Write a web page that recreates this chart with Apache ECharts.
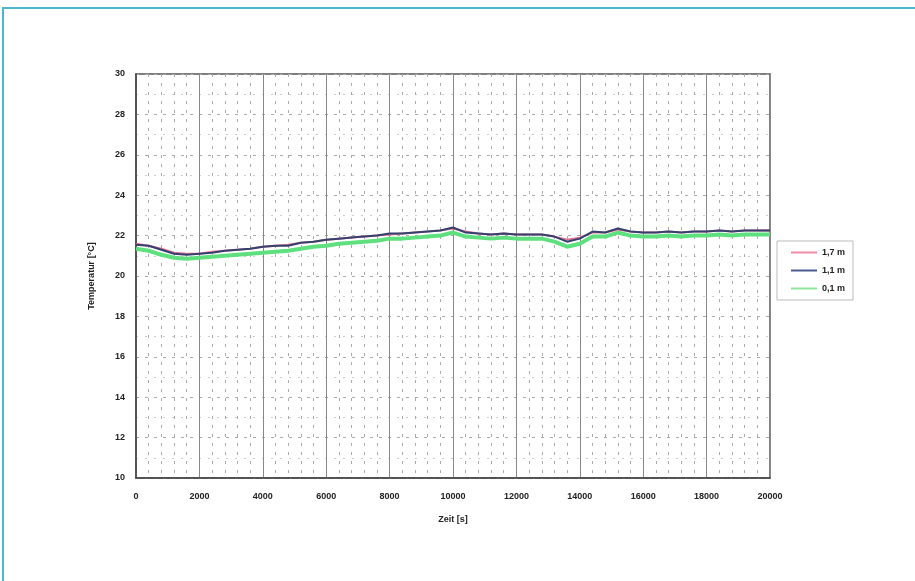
<!DOCTYPE html>
<html>
<head>
<meta charset="utf-8">
<script src="https://cdn.jsdelivr.net/npm/echarts@6/dist/echarts.min.js"></script>
<style>
html,body{margin:0;padding:0;background:#fff;}
#frame{position:absolute;left:2px;top:7px;width:913px;height:574px;border-top:2px solid #4bb8cc;border-left:2px solid #4bb8cc;box-sizing:border-box;}
#chart{position:absolute;left:0;top:0;width:915px;height:581px;}
</style>
</head>
<body>
<div id="chart"></div>
<div id="frame"></div>
<script>
const timeSec = [0,400,800,1200,1600,2000,2400,2800,3200,3600,4000,4400,4800,5200,5600,6000,6400,6800,7200,7600,8000,8400,8800,9200,9600,10000,10400,10800,11200,11600,12000,12400,12800,13200,13600,14000,14400,14800,15200,15600,16000,16400,16800,17200,17600,18000,18400,18800,19200,19600,20000];
const t17 = [21.6,21.5,21.35,21.15,21.1,21.1,21.2,21.25,21.3,21.35,21.45,21.5,21.55,21.65,21.7,21.8,21.85,21.9,21.95,22.0,22.05,22.1,22.15,22.2,22.25,22.35,22.2,22.1,22.05,22.1,22.05,22.05,22.05,21.95,21.8,21.9,22.15,22.15,22.3,22.2,22.15,22.15,22.2,22.15,22.2,22.2,22.25,22.2,22.25,22.25,22.25];
const t11 = [21.55,21.5,21.3,21.1,21.05,21.1,21.15,21.25,21.3,21.35,21.45,21.5,21.5,21.65,21.7,21.8,21.85,21.9,21.95,22.0,22.1,22.1,22.15,22.2,22.25,22.4,22.15,22.1,22.05,22.1,22.05,22.05,22.05,21.95,21.7,21.85,22.2,22.15,22.35,22.2,22.15,22.15,22.2,22.15,22.2,22.2,22.25,22.2,22.25,22.25,22.25];
const t01 = [21.35,21.25,21.05,20.9,20.85,20.9,20.95,21.0,21.05,21.1,21.15,21.2,21.25,21.35,21.45,21.5,21.6,21.65,21.7,21.75,21.85,21.85,21.9,21.95,22.0,22.15,21.95,21.9,21.85,21.9,21.85,21.85,21.85,21.7,21.45,21.6,21.95,21.95,22.15,22.0,21.95,21.95,22.0,21.95,22.0,22.0,22.05,22.0,22.05,22.05,22.05];
const xTicks = [0,2000,4000,6000,8000,10000,12000,14000,16000,18000,20000];
const yTicks = [10,12,14,16,18,20,22,24,26,28,30];
const names = ['1,7 m','1,1 m','0,1 m'];

const chart = echarts.init(document.getElementById('chart'));
const pair = (a) => timeSec.map((x,i)=>[x,a[i]]);
const lbl = {color:'#222',fontFamily:'Liberation Sans, Arial',fontSize:9,fontWeight:'bold'};
chart.setOption({
  animation:false,
  backgroundColor:'#fff',
  grid:{left:136,right:145,top:74,bottom:103,show:true,borderColor:'#555',borderWidth:1.5,backgroundColor:'#fff'},
  xAxis:{type:'value',min:xTicks[0],max:xTicks[xTicks.length-1],interval:2000,
    name:'Zeit [s]',nameLocation:'middle',nameGap:37,nameTextStyle:lbl,
    axisLine:{show:true,lineStyle:{color:'#444',width:1.5}},axisTick:{show:false},
    axisLabel:Object.assign({margin:14,formatter:(v)=>String(v)},lbl),
    splitLine:{show:true,lineStyle:{color:'#888',width:1}},
    minorTick:{show:false,splitNumber:5},
    minorSplitLine:{show:true,lineStyle:{color:'#aaa',type:[3,6],width:1}}},
  yAxis:{type:'value',min:yTicks[0],max:yTicks[yTicks.length-1],interval:2,
    name:'Temperatur [°C]',nameLocation:'middle',nameGap:40,nameRotate:90,nameTextStyle:lbl,
    axisLine:{show:true,lineStyle:{color:'#444',width:1.5}},axisTick:{show:false},
    axisLabel:Object.assign({margin:11,formatter:(v)=>String(v)},lbl),
    splitLine:{show:true,lineStyle:{color:'#aaa',type:[3,6],width:1}},
    minorTick:{show:false,splitNumber:2},
    minorSplitLine:{show:true,lineStyle:{color:'#ccc',type:[2,7],width:1}}},
  legend:{orient:'vertical',left:777,top:241,data:names,itemWidth:26,itemHeight:2,itemGap:9,
    icon:'rect',padding:[7,8,7,14],borderColor:'#bbb',borderWidth:1,
    textStyle:lbl},
  series:[
    {name:names[2],type:'line',data:pair(t01),showSymbol:false,symbol:'none',lineStyle:{color:'#5fe07e',width:4},itemStyle:{color:'#8ee79f'}},
    {name:names[0],type:'line',data:pair(t17),showSymbol:false,symbol:'none',lineStyle:{color:'#e0708e',width:2},itemStyle:{color:'#f08aa4'}},
    {name:names[1],type:'line',data:pair(t11),showSymbol:false,symbol:'none',lineStyle:{color:'#34406e',width:2},itemStyle:{color:'#4a5a90'}}
  ]
});
</script>
</body>
</html>
